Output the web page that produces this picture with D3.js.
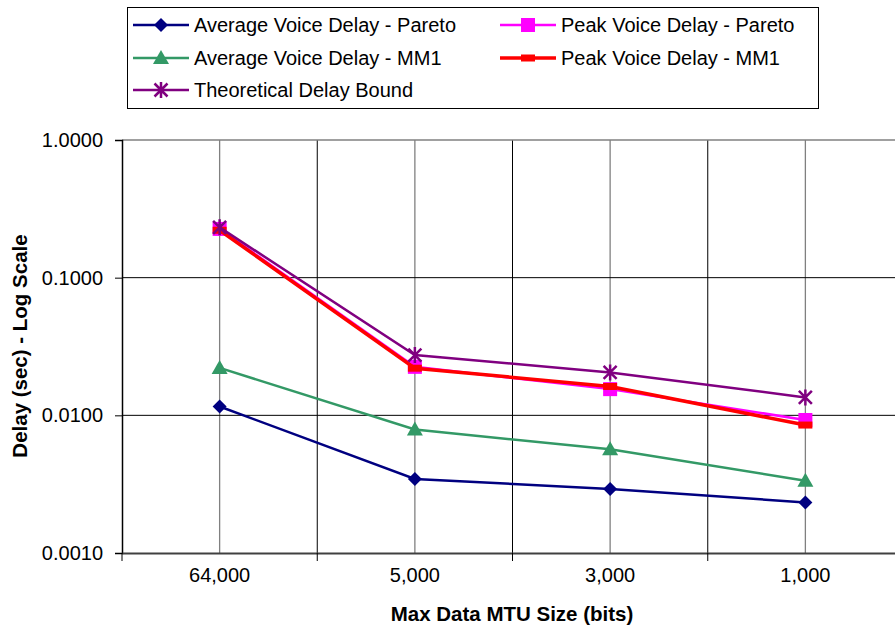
<!DOCTYPE html>
<html>
<head>
<meta charset="utf-8">
<script src="https://cdn.jsdelivr.net/npm/d3@7"></script>
<style>
  body { margin: 0; background: #fff; }
  text { font-family: "Liberation Sans", Arial, sans-serif; }
</style>
</head>
<body>
<div class="chart"></div>
<script>
var categories = ["64,000", "5,000", "3,000", "1,000"];
var avgPareto = [0.0116, 0.00345, 0.00292, 0.00233];
var peakPareto = [0.226, 0.0225, 0.0155, 0.00925];
var avgMM1 = [0.0221, 0.0079, 0.00566, 0.00335];
var peakMM1 = [0.221, 0.022, 0.0162, 0.0085];
var theoryBound = [0.232, 0.0274, 0.0205, 0.0135];
var yTicks = [0.001, 0.01, 0.1, 1];

var series = [
    { name: "Average Voice Delay - Pareto", values: avgPareto, color: "#000080", marker: "diamond", width: 2.5 },
    { name: "Peak Voice Delay - Pareto", values: peakPareto, color: "#FF00FF", marker: "square", width: 2.5 },
    { name: "Average Voice Delay - MM1", values: avgMM1, color: "#339966", marker: "triangle", width: 2.5 },
    { name: "Peak Voice Delay - MM1", values: peakMM1, color: "#FF0000", marker: "dash", width: 3.5 },
    { name: "Theoretical Delay Bound", values: theoryBound, color: "#800080", marker: "star", width: 2.5 }
];

var W = 895, H = 629;
var plotLeft = 122, plotRight = 903, plotTop = 140, plotBottom = 553;

var svg = d3.select(".chart")
            .append("svg")
            .attr("width", W)
            .attr("height", H);

var x = d3.scaleBand()
          .domain(categories)
          .range([plotLeft, plotRight]);

var y = d3.scaleLog()
          .domain([0.001, 1])
          .range([plotBottom, plotTop]);

var mid = function(d) {
    return x(d) + x.bandwidth() / 2;
};

// gridlines - band centers grey, band edges black
svg.selectAll(".vc")
    .data(categories)
    .enter().append("line")
    .attr("x1", mid)
    .attr("x2", mid)
    .attr("y1", plotTop).attr("y2", plotBottom)
    .attr("stroke", "#808080").attr("stroke-width", 1.3);

svg.selectAll(".ve")
    .data(categories.slice(1))
    .enter().append("line")
    .attr("x1", function(d) { return x(d); })
    .attr("x2", function(d) { return x(d); })
    .attr("y1", plotTop).attr("y2", plotBottom)
    .attr("stroke", "#000").attr("stroke-width", 1);

svg.selectAll(".hg")
    .data(yTicks.slice(1, 3))
    .enter().append("line")
    .attr("x1", plotLeft).attr("x2", plotRight)
    .attr("y1", function(d) { return y(d); })
    .attr("y2", function(d) { return y(d); })
    .attr("stroke", "#000").attr("stroke-width", 1);

// top border
svg.append("line")
    .attr("x1", plotLeft).attr("x2", plotRight)
    .attr("y1", y(1)).attr("y2", y(1))
    .attr("stroke", "#808080").attr("stroke-width", 1.5);

// y axis
var yAxis = d3.axisLeft(y)
              .tickValues(yTicks)
              .tickSize(7)
              .tickFormat(d3.format(".4f"));
var ya = svg.append("g")
    .attr("transform", "translate(" + plotLeft + ",0)")
    .call(yAxis);
ya.select(".domain").attr("stroke", "#000").attr("stroke-width", 1.5);
ya.selectAll(".tick line").attr("stroke", "#000");
ya.selectAll(".tick text")
    .attr("x", -19)
    .attr("fill", "#000")
    .style("font-size", "20px");

// x axis
var xAxis = d3.axisBottom(x).tickSize(0).tickSizeOuter(0);
var xa = svg.append("g")
    .attr("transform", "translate(0," + plotBottom + ")")
    .call(xAxis);
xa.select(".domain").attr("stroke", "#404040").attr("stroke-width", 2);
xa.selectAll(".tick text")
    .attr("y", 15)
    .attr("fill", "#000")
    .style("font-size", "20px");

svg.selectAll(".xt")
    .data(categories)
    .enter().append("line")
    .attr("x1", function(d) { return x(d); })
    .attr("x2", function(d) { return x(d); })
    .attr("y1", plotBottom).attr("y2", plotBottom + 8)
    .attr("stroke", "#000");

// axis titles
svg.append("text")
    .attr("x", 512)
    .attr("y", 621)
    .attr("text-anchor", "middle")
    .style("font-size", "20.5px")
    .style("font-weight", "bold")
    .text("Max Data MTU Size (bits)");

svg.append("text")
    .attr("transform", "translate(27,346) rotate(-90)")
    .attr("text-anchor", "middle")
    .style("font-size", "20.5px")
    .style("font-weight", "bold")
    .text("Delay (sec) - Log Scale");

var drawMarker = function(g, type, color) {
    if (type === "diamond") {
        g.append("path").attr("d", "M0,-7L7,0L0,7L-7,0Z").attr("fill", color);
    } else if (type === "square") {
        g.append("rect").attr("x", -7).attr("y", -7).attr("width", 14).attr("height", 14).attr("fill", color);
    } else if (type === "triangle") {
        g.append("path").attr("d", "M0,-8L8,6L-8,6Z").attr("fill", color);
    } else if (type === "dash") {
        g.append("rect").attr("x", -7).attr("y", -3.5).attr("width", 14).attr("height", 7).attr("fill", color);
    } else if (type === "star") {
        g.append("path")
            .attr("d", "M-6.5,-6.5L6.5,6.5M-6.5,6.5L6.5,-6.5M0,-8L0,8")
            .attr("stroke", color).attr("stroke-width", 2.5).attr("fill", "none");
    }
};

var line = d3.line()
    .x(function(d, i) { return mid(categories[i]); })
    .y(function(d) { return y(d); });

series.forEach(function(s) {
    svg.append("path")
        .attr("d", line(s.values))
        .attr("fill", "none")
        .attr("stroke", s.color)
        .attr("stroke-width", s.width);
    s.values.forEach(function(v, i) {
        var g = svg.append("g")
            .attr("transform", "translate(" + mid(categories[i]) + "," + y(v) + ")");
        drawMarker(g, s.marker, s.color);
    });
});

// legend
svg.append("rect")
    .attr("x", 127.5).attr("y", 7.5)
    .attr("width", 691).attr("height", 101)
    .attr("fill", "#fff")
    .attr("stroke", "#000").attr("stroke-width", 1);

var legendPos = [
    { x: 133, y: 25 }, { x: 500, y: 25 },
    { x: 133, y: 58 }, { x: 500, y: 58 },
    { x: 133, y: 90 }
];

series.forEach(function(s, i) {
    var p = legendPos[i];
    svg.append("line")
        .attr("x1", p.x).attr("x2", p.x + 56)
        .attr("y1", p.y).attr("y2", p.y)
        .attr("stroke", s.color).attr("stroke-width", s.width);
    var g = svg.append("g").attr("transform", "translate(" + (p.x + 28) + "," + p.y + ")");
    drawMarker(g, s.marker, s.color);
    svg.append("text")
        .attr("x", p.x + 61)
        .attr("y", p.y + 7)
        .style("font-size", "20px")
        .text(s.name);
});
</script>
</body>
</html>
